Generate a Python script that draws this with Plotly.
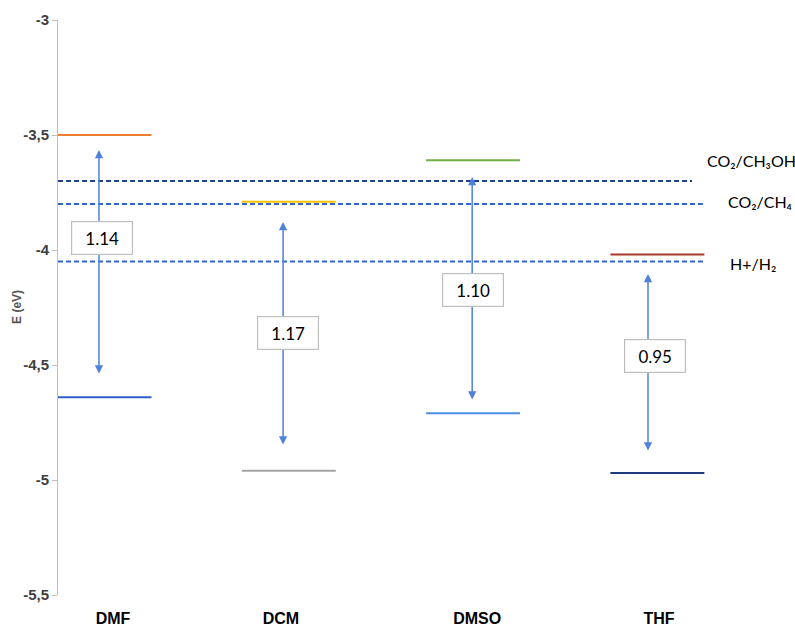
import plotly.graph_objects as go

# ---- data ----
solvents = ["DMF", "DCM", "DMSO", "THF"]
upper_level = [-3.50, -3.79, -3.61, -4.02]
lower_level = [-4.64, -4.96, -4.71, -4.97]
upper_colors = ["#ED7D31", "#FFC000", "#70AD47", "#A9392A"]
lower_colors = ["#2E5FC6", "#A5A5A5", "#4A90E2", "#1F3A7A"]
gap_labels = ["1.14", "1.17", "1.10", "0.95"]
arrow_top = [-3.565, -3.878, -3.683, -4.104]
arrow_bottom = [-4.543, -4.852, -4.657, -4.878]
arrow_dx = [-0.030, -0.031, -0.005, -0.051]
box_y = [-3.948, -4.359, -4.176, -4.461]
box_dx = [-0.011, -0.007, 0.0, -0.015]
label_dx = [0.046, -0.043, 0.022, 0.009]

redox_names = ["CO₂/CH₃OH", "CO₂/CH₄", "H+/H₂"]
redox_values = [-3.70, -3.80, -4.05]
redox_end = [4.188, 4.247, 4.247]
redox_colors = ["#1F3F8F", "#3366CC", "#3366CC"]
redox_label_x = [4.258, 4.372, 4.383]
redox_label_y = [-3.609, -3.791, -4.057]

y_ticks = [-3, -3.5, -4, -4.5, -5, -5.5]
y_ticktext = ["-3", "-3,5", "-4", "-4,5", "-5", "-5,5"]

x_min, x_max = 0.7477, 4.7195
half_w = 0.255

fig = go.Figure()

# redox dashed lines
for name, v, xe, c in zip(redox_names, redox_values, redox_end, redox_colors):
    fig.add_trace(go.Scatter(x=[x_min, xe], y=[v, v], mode="lines",
                             line=dict(color=c, width=2, dash="5px,3px"),
                             hoverinfo="skip", showlegend=False))

# energy levels
for i, s in enumerate(solvents):
    xc = i + 1
    fig.add_trace(go.Scatter(x=[xc - half_w, xc + half_w], y=[upper_level[i]] * 2,
                             mode="lines", line=dict(color=upper_colors[i], width=2),
                             showlegend=False, hoverinfo="skip"))
    fig.add_trace(go.Scatter(x=[xc - half_w, xc + half_w], y=[lower_level[i]] * 2,
                             mode="lines", line=dict(color=lower_colors[i], width=2),
                             showlegend=False, hoverinfo="skip"))

annotations = []
# arrows
for i in range(len(solvents)):
    xa = i + 1 + arrow_dx[i]
    annotations.append(dict(x=xa, y=arrow_top[i], ax=xa, ay=arrow_bottom[i],
                            xref="x", yref="y", axref="x", ayref="y",
                            text="", showarrow=True, arrowhead=2, startarrowhead=2,
                            arrowside="end+start", arrowsize=1.1, startarrowsize=1.1,
                            arrowwidth=1.5, arrowcolor="#4D82DA", standoff=0, startstandoff=0))
# gap boxes
for i in range(len(solvents)):
    annotations.append(dict(x=i + 1 + box_dx[i], y=box_y[i], xref="x", yref="y",
                            text=gap_labels[i], showarrow=False,
                            font=dict(family="Lato, Liberation Sans", size=17, color="#000"),
                            bgcolor="white", bordercolor="#BFBFBF", borderwidth=1.2,
                            width=60, height=32, borderpad=0))
# redox labels
for name, lx, ly in zip(redox_names, redox_label_x, redox_label_y):
    annotations.append(dict(x=lx, y=ly, xref="x", yref="y", text=name, showarrow=False,
                            xanchor="left", yanchor="middle",
                            font=dict(family="Lato, Liberation Sans", size=16, color="#000")))
# y axis title
annotations.append(dict(x=-0.056, y=0.501, xref="paper", yref="paper", text="E (eV)",
                        textangle=-90, showarrow=False, xanchor="center", yanchor="middle",
                        font=dict(family="Liberation Sans", size=12, color="#555", weight="bold")))

fig.update_layout(
    width=795, height=626,
    margin=dict(l=58, r=5, t=20, b=31, autoexpand=False),
    paper_bgcolor="white", plot_bgcolor="white",
    annotations=annotations,
    xaxis=dict(range=[x_min, x_max], tickvals=[i + 1 + d for i, d in enumerate(label_dx)],
               ticktext=solvents,
               showgrid=False, zeroline=False, showline=False, ticks="",
               ticklabelstandoff=12, automargin=False,
               tickfont=dict(family="Liberation Sans", size=16, color="#000", weight="bold")),
    yaxis=dict(range=[-5.5, -3], tickvals=y_ticks, ticktext=y_ticktext,
               showgrid=False, zeroline=False, showline=True, linecolor="#BFBFBF", linewidth=1,
               ticks="outside", ticklen=5, tickcolor="#BFBFBF",
               tickfont=dict(family="Liberation Sans", size=15, color="#404040", weight="bold"),
               automargin=False),
)

fig.write_html("out.html", config={"displayModeBar": False},
               post_script="document.body.style.margin='0px';document.body.style.overflow='hidden';")
